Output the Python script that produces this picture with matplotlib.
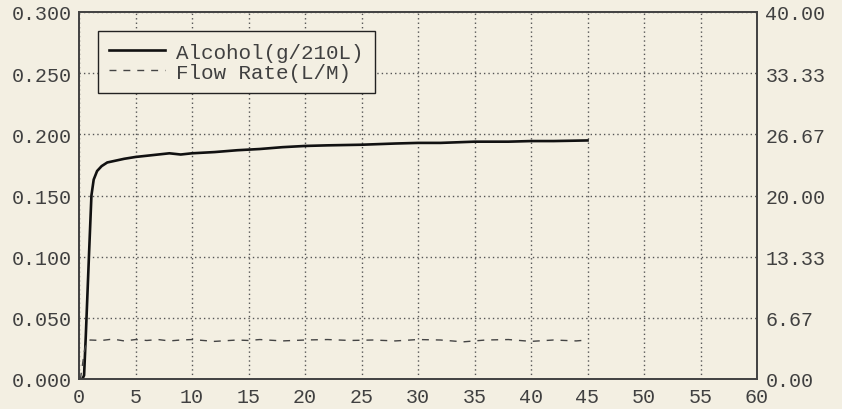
import matplotlib
matplotlib.use("Agg")
import matplotlib.pyplot as plt

# --- data ---
alc_time = [0, 0.3, 0.45, 0.6, 0.75, 0.9, 1.1, 1.3, 1.6, 2.0, 2.5, 3.0, 4.0, 5.0, 6.0,
            7.0, 8.0, 9.0, 10.0, 12.0, 14.0, 16.0, 18.0, 20.0, 22.0, 25.0, 28.0, 30.0,
            32.0, 35.0, 38.0, 40.0, 42.0, 45.0]
alcohol = [0, 0, 0.003, 0.035, 0.070, 0.105, 0.150, 0.163, 0.170, 0.174, 0.177, 0.178,
           0.180, 0.1815, 0.1825, 0.1835, 0.1845, 0.1835, 0.1845, 0.1855, 0.1870, 0.1880,
           0.1895, 0.1905, 0.1910, 0.1915, 0.1925, 0.1930, 0.1930, 0.1940, 0.1940,
           0.1945, 0.1945, 0.1950]

flow_time = [0, 0.15, 0.3, 0.5, 0.7, 1.0, 2.0, 3.0, 4.0, 5.0, 6.0, 7.0, 8.0, 9.0, 10.0,
             12.0, 14.0, 15.0, 16.0, 18.0, 20.0, 22.0, 24.0, 26.0, 28.0, 30.0, 32.0,
             34.0, 36.0, 38.0, 40.0, 42.0, 44.0, 45.0]
flow = [0, 0.2, 1.5, 3.2, 4.1, 4.25, 4.2, 4.35, 4.15, 4.3, 4.2, 4.3, 4.15, 4.25, 4.3,
        4.1, 4.25, 4.2, 4.3, 4.15, 4.25, 4.3, 4.2, 4.25, 4.15, 4.3, 4.25, 4.05, 4.25,
        4.3, 4.1, 4.25, 4.15, 4.25]

x_ticks = list(range(0, 61, 5))
left_ticks = [0.0, 0.05, 0.10, 0.15, 0.20, 0.25, 0.30]
left_labels = ["0.000", "0.050", "0.100", "0.150", "0.200", "0.250", "0.300"]
right_ticks = [0, 40 / 6, 80 / 6, 20, 160 / 6, 200 / 6, 40]
right_labels = ["0.00", "6.67", "13.33", "20.00", "26.67", "33.33", "40.00"]

BG = "#f3efe2"
FONT = "Liberation Mono"
FS = 14.4
LFS = 15
TXT = "#404040"

fig = plt.figure(figsize=(8.42, 4.10), dpi=100, facecolor=BG)
ax = fig.add_axes([79 / 842, 30 / 410, (757 - 79) / 842, (380 - 13) / 410])
ax.set_facecolor(BG)

l1, = ax.plot(alc_time, alcohol, color="#111111", lw=1.9, label="Alcohol(g/210L)",
              zorder=3)
ax.set_xlim(0, 60)
ax.set_ylim(0, 0.3)
ax.set_xticks(x_ticks)
ax.set_xticklabels([str(v) for v in x_ticks], fontfamily=FONT, fontsize=FS, color=TXT)
ax.set_yticks(left_ticks)
ax.set_yticklabels(left_labels, fontfamily=FONT, fontsize=FS, color=TXT)
ax.tick_params(length=0, pad=5)
ax.tick_params(axis="x", pad=6)
ax.grid(True, color="#555555", lw=1.0, linestyle=(0, (1, 2.2)))
ax.set_axisbelow(True)
for s in ax.spines.values():
    s.set_color("#444444")
    s.set_linewidth(1.3)

ax2 = ax.twinx()
l2, = ax2.plot(flow_time, flow, color="#444444", lw=1.0, linestyle=(0, (5, 5)),
               label="Flow Rate(L/M)", zorder=3)
ax2.set_ylim(0, 40)
ax2.set_yticks(right_ticks)
ax2.set_yticklabels(right_labels, fontfamily=FONT, fontsize=FS, color=TXT)
ax2.tick_params(length=0, pad=6)
for s in ax2.spines.values():
    s.set_color("#444444")
    s.set_linewidth(1.3)

leg = ax2.legend(handles=[l1, l2], loc="upper left", bbox_to_anchor=(0.028, 0.948),
                 prop={"family": FONT, "size": LFS}, frameon=True, fancybox=False,
                 edgecolor="#222222", facecolor=BG, framealpha=1.0,
                 handlelength=2.65, handletextpad=0.53, borderpad=0.55,
                 labelspacing=0.05, borderaxespad=0)
leg.get_frame().set_linewidth(1.0)
for t in leg.get_texts():
    t.set_color(TXT)

fig.savefig("out.png", dpi=100, facecolor=BG)
